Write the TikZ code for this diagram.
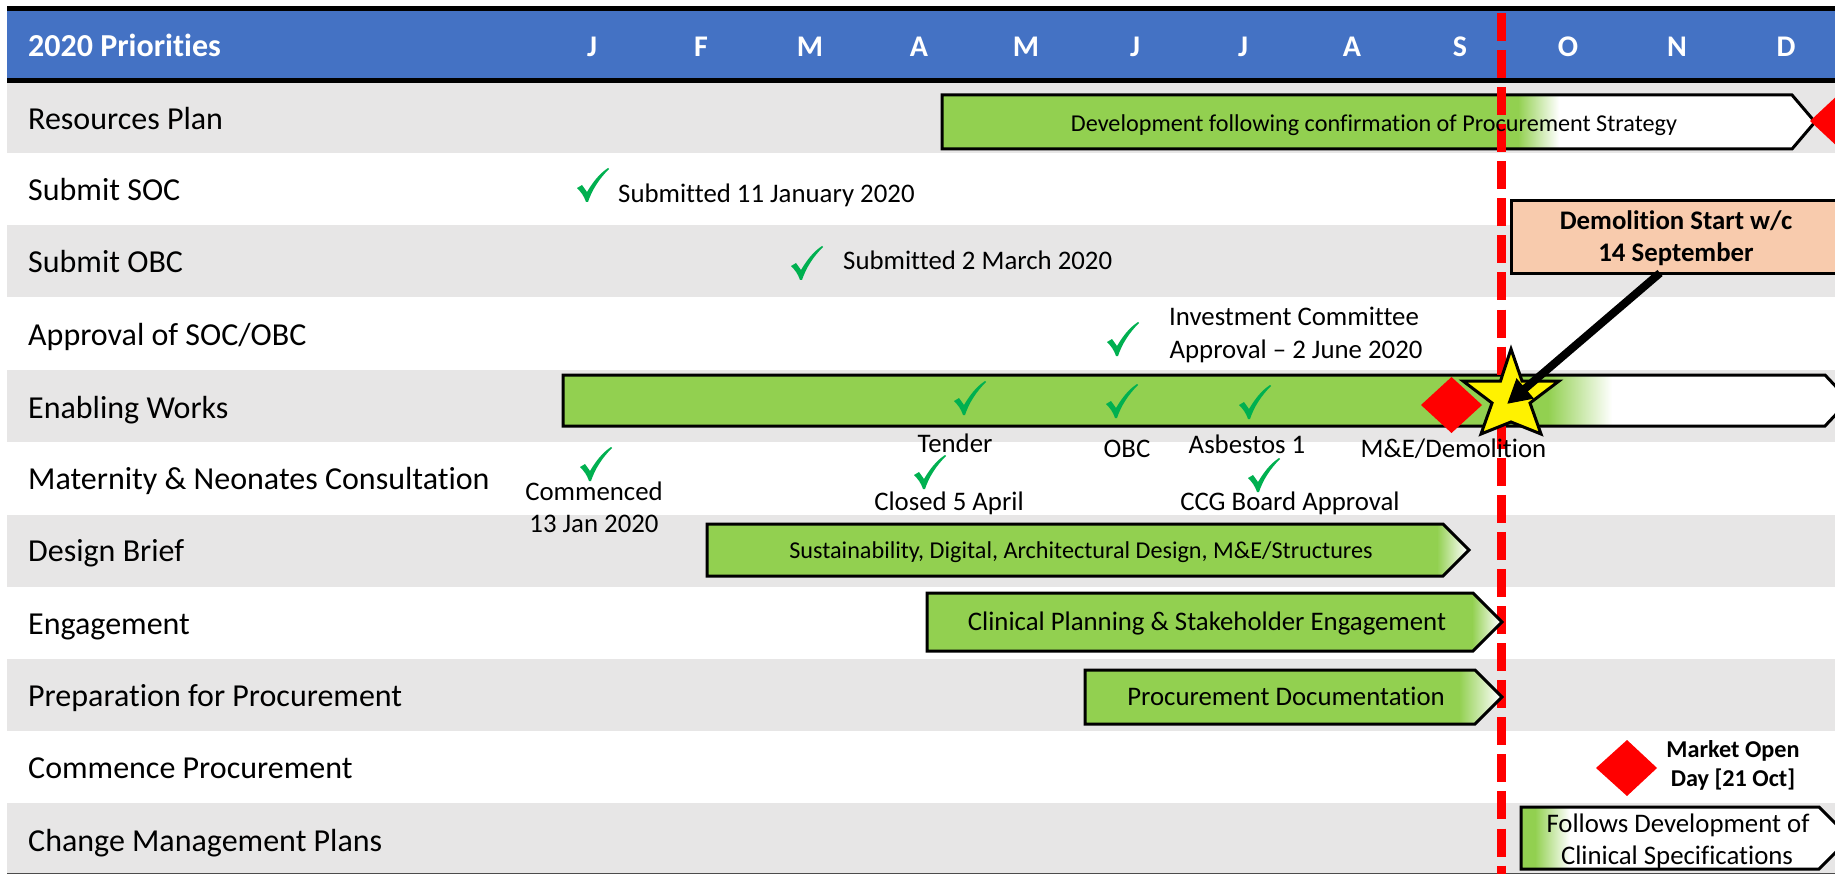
\documentclass[tikz,border=0pt]{standalone}
\usepackage{fontspec}
\setmainfont{Carlito}[Ligatures=CommonOff]
\usetikzlibrary{arrows.meta,shadings}
\definecolor{hdr}{HTML}{4472C4}
\definecolor{band}{HTML}{E7E6E6}
\definecolor{barg}{HTML}{92D050}
\definecolor{tickg}{HTML}{00B050}
\definecolor{peach}{HTML}{F8CBAD}
\newcommand{\fs}[1]{\fontsize{#1pt}{#1pt}\selectfont}
\tikzset{
  x=1pt,y=-1pt,
  rowlabel/.style={anchor=base west,inner sep=0pt,font=\fs{32}},
  month/.style={anchor=base,inner sep=0pt,text=white,font=\fs{30}\bfseries},
  note/.style={anchor=base,inner sep=0pt,font=\fs{26.8}},
  barline/.style={draw=black,line width=3pt,line join=miter},
  bartext/.style={anchor=base,inner sep=0pt},
  redmark/.style={fill=red,draw=none},
  tickmark/.pic={\fill[tickg] (-16,3) -- (-11,0) -- (-6,7) .. controls (0,-3) and (6,-11) .. (15,-17) -- (16,-16) .. controls (6,-6) and (-1,5) .. (-5,17) -- (-7,17) .. controls (-9,11) and (-12,7) .. (-16,3) -- cycle;}
}
% bar: left, right-neck, tip, top, bottom, fade start, fade end
\newcommand{\gbar}[7]{%
  \fill[white] (#1,#4) -- (#2,#4) -- (#3,{(#4+#5)/2}) -- (#2,#5) -- (#1,#5) -- cycle;
  \begin{scope}
    \clip (#1,#4) -- (#2,#4) -- (#3,{(#4+#5)/2}) -- (#2,#5) -- (#1,#5) -- cycle;
    \fill[barg] (#1,#4) rectangle (#6,#5);
    \shade[left color=barg,right color=white] (#6,#4) rectangle (#7,#5);
  \end{scope}
  \draw[barline] (#1,#4) -- (#2,#4) -- (#3,{(#4+#5)/2}) -- (#2,#5) -- (#1,#5) -- cycle;
}
\begin{document}
\begin{tikzpicture}
\useasboundingbox (0,0) rectangle (1835,874);
\fill[white] (0,0) rectangle (1835,874);
\begin{scope}
\clip (0,0) rectangle (1835,874);
% bands
\fill[band] (7,83) rectangle (1835,153);
\fill[band] (7,225) rectangle (1835,297);
\fill[band] (7,370) rectangle (1835,442);
\fill[band] (7,515) rectangle (1835,587);
\fill[band] (7,659) rectangle (1835,731);
\fill[band] (7,803) rectangle (1835,873);
\draw[black!70,line width=1pt] (7,873.5) -- (1835,873.5);
% header
\fill[hdr] (7,8) rectangle (1835,82);
\fill[black] (7,6) rectangle (1835,11);
\fill[black] (7,78) rectangle (1835,83);
% bars below the red line
\gbar{942}{1792}{1815}{95}{149}{1518}{1559}
\gbar{563}{1825}{1849}{375}{426}{1548}{1612}
\gbar{707}{1443}{1469}{524}{576}{1437}{1467}
\gbar{1521}{1819}{1850}{807}{869}{1535}{1570}
% red line
\draw[red,line width=9.5pt,dash pattern=on 28pt off 9.07pt] (1501.5,13) -- (1501.5,880);
% bars above the red line
\gbar{927}{1473}{1502}{593}{651}{1472}{1500}
\gbar{1085}{1475}{1502}{670}{724}{1459}{1500}
% diamonds
\fill[redmark] (1810,121) -- (1840,93) -- (1870,121) -- (1840,149) -- cycle;
\fill[redmark] (1421,405) -- (1451.5,377) -- (1482,405) -- (1451.5,433) -- cycle;
\fill[redmark] (1596,768) -- (1627,740) -- (1657,768) -- (1627,796) -- cycle;
% header text
\node[anchor=base west,inner sep=0pt,text=white,font=\fs{32}\bfseries] (title) at (28,57) {2020 Priorities};
\foreach \mx/\ml in {592/J,701/F,810/M,919/A,1026/M,1135/J,1243/J,1352/A,1460/S,1568/O,1677/N,1786/D}
  \node[month] at (\mx,57) {\ml};
% row labels
\node[rowlabel] (r1) at (28,130) {Resources Plan};
\node[rowlabel] (r2) at (28,201) {Submit SOC};
\node[rowlabel] (r3) at (28,273) {Submit OBC};
\node[rowlabel] (r4) at (28,345) {Approval of SOC/OBC};
\node[rowlabel] (r5) at (28,418) {Enabling Works};
\node[rowlabel] (r6) at (28,489) {Maternity \& Neonates Consultation};
\node[rowlabel] (r7) at (28,561) {Design Brief};
\node[rowlabel] (r8) at (28,634) {Engagement};
\node[rowlabel] (r9) at (28,706) {Preparation for Procurement};
\node[rowlabel] (r10) at (28,778) {Commence Procurement};
\node[rowlabel] (r11) at (28,851) {Change Management Plans};
% notes
\node[note,anchor=base west] (n1) at (618,203) {Submitted 11 January 2020};
\node[note,anchor=base west] (n2) at (843,270) {Submitted 2 March 2020};
\node[note] (n3) at (1294,326) {Investment Committee};
\node[note] (n3b) at (1296,358) {Approval – 2 June 2020};
\node[note] (n4) at (955,452) {Tender};
\node[note] (n5) at (1127,457) {OBC};
\node[note] (n6) at (1247,453) {Asbestos 1};
\node[note] (n7) at (1453.5,457) {M\&E/Demolition};
\node[note] (n8) at (594,500) {Commenced};
\node[note] (n8b) at (594,532) {13 Jan 2020};
\node[note] (n9) at (949,510) {Closed 5 April};
\node[note] (n10) at (1290,510) {CCG Board Approval};
% bar texts
\node[bartext,font=\fs{24.2}] (b1) at (1374,132) {Development following confirmation of Procurement Strategy};
\node[bartext,font=\fs{24.2}] (b3) at (1081,558) {Sustainability, Digital, Architectural Design, M\&E/Structures};
\node[bartext,font=\fs{26.8}] (b4) at (1207,630) {Clinical Planning \& Stakeholder Engagement};
\node[bartext,font=\fs{26.8}] (b5) at (1286,705) {Procurement Documentation};
\node[bartext,font=\fs{26.8}] (b6) at (1678,832) {Follows Development of};
\node[bartext,font=\fs{26.8}] (b6b) at (1677,864) {Clinical Specifications};
\node[bartext,font=\fs{24.2}\bfseries] (m1) at (1733,757) {Market Open};
\node[bartext,font=\fs{24.2}\bfseries] (m2) at (1733,786) {Day [21 Oct]};
% ticks
\foreach \tx/\ty in {593/185,807/263,1123/339,970/398,1122/401,1255/402,596/464,930/472,1264/475}
  \pic at (\tx,\ty) {tickmark};
% demolition box
\node[draw=black,line width=3pt,fill=peach,minimum width=400pt,minimum height=73pt,inner sep=0pt,anchor=north west] (demo) at (1510,199) {};
\node[bartext,font=\fs{26.8}\bfseries] (d1) at (1676,230) {Demolition Start w/c};
\node[bartext,font=\fs{26.8}\bfseries] (d2) at (1676,262) {14 September};
% star
\coordinate (starc) at (1507,404);
\coordinate (demofoot) at (1660,273);
\draw[black,line width=3pt,fill=yellow,line join=miter] (1511,349) -- (1522,381) -- (1559,381) -- (1530,403) -- (1541,434) -- (1511,422) -- (1481,434) -- (1492,403) -- (1463,381) -- (1500.5,381) -- cycle;
\draw[black,line width=8pt,-{Triangle[length=24pt,width=25pt]}] (demofoot) -- (starc);
\end{scope}
\end{tikzpicture}
\end{document}
